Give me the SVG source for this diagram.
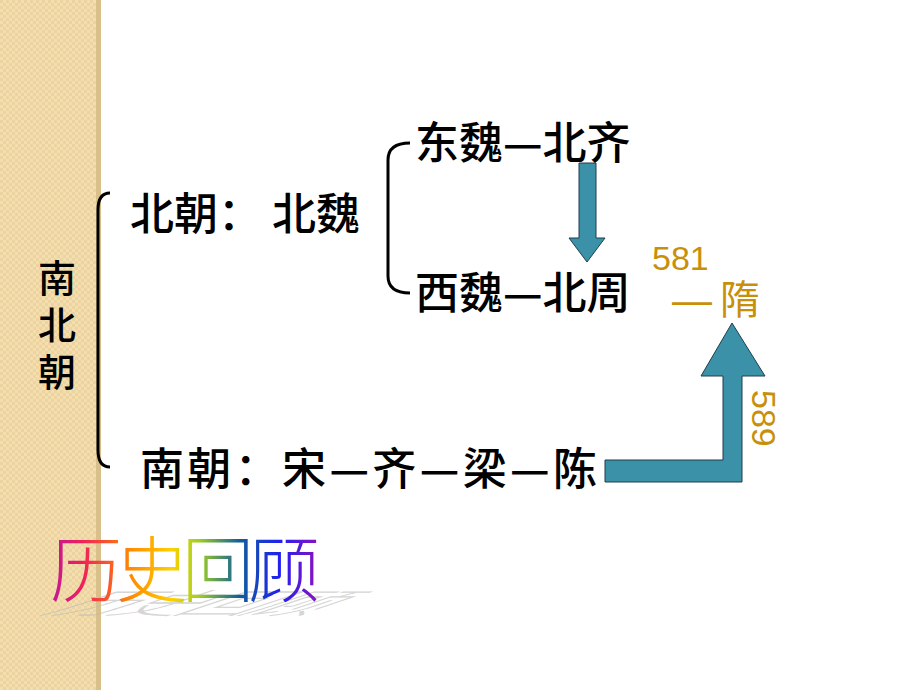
<svg xmlns="http://www.w3.org/2000/svg" width="920" height="690" viewBox="0 0 920 690">
<defs>
<pattern id="p" width="6" height="6" patternUnits="userSpaceOnUse"><rect width="6" height="6" fill="#f3deb0"/><rect width="3" height="3" fill="#ecd3a0"/><rect x="3" y="3" width="3" height="3" fill="#ecd3a0"/></pattern>
<linearGradient id="g" x1="0" x2="1"><stop offset="0" stop-color="#c0169a"/><stop offset="0.12" stop-color="#f0205a"/><stop offset="0.3" stop-color="#ff8a00"/><stop offset="0.45" stop-color="#ffd000"/><stop offset="0.55" stop-color="#a0d020"/><stop offset="0.7" stop-color="#10609a"/><stop offset="0.85" stop-color="#2020f0"/><stop offset="1" stop-color="#9010c0"/></linearGradient>
<style>
.t{font-family:"Noto Sans CJK SC",sans-serif;font-size:44px;font-weight:500;fill:#000}
.o{font-family:"Liberation Sans","Noto Sans CJK SC",sans-serif;fill:#c8900a}
.br{fill:none;stroke:#000;stroke-width:3}
.ar{fill:#3a91a8;stroke:#1f3f4a;stroke-width:1}
</style>
</defs>
<rect width="920" height="690" fill="#fff"/>
<rect width="100" height="690" fill="url(#p)"/>
<rect x="96" width="5" height="690" fill="#d9c08a"/>
<g id="title" style="font-size:38px"><text class="t" style="font-size:38px" x="57" y="292" text-anchor="middle">南</text><text class="t" style="font-size:38px" x="57" y="339" text-anchor="middle">北</text><text class="t" style="font-size:38px" x="57" y="386" text-anchor="middle">朝</text></g>
<g id="connectors">
<path class="br" d="M110,193 Q98,193 98,210 L98,450 Q98,467 110,467"/>
<path class="br" d="M410,143 Q388,143 388,160 L388,276 Q388,293 410,293"/>
<path class="ar" d="M579,163 H596 V238 H605 L587,262 L569,238 H579 Z"/>
<path class="ar" d="M605,460 H723 V376 H701 L732,323 L765,376 H742 V482 H605 Z"/>
</g>
<g id="beichao"><text class="t" x="130" y="230">北朝：  北魏</text></g>
<g id="dongwei"><text class="t" x="415" y="159">东魏—北齐</text></g>
<g id="xiwei"><text class="t" x="415" y="309">西魏—北周</text></g>
<g id="nanchao"><text class="t" x="140" y="485" textLength="457">南朝：宋—齐—梁—陈</text></g>
<g id="sui"><text class="o" x="652" y="270" font-size="34">581</text><text class="o" x="672" y="314" font-size="40" textLength="88">—隋</text></g>
<g id="y589"><text class="o" font-size="34" transform="translate(752,390) rotate(90)">589</text></g>
<g id="wordart" font-family="'Noto Sans CJK SC',sans-serif" font-size="72" font-weight="300">
<text x="0" y="0" fill="#bbb" opacity="0.6" transform="matrix(1,0,-1.2,0.4,40,614)" textLength="270">历史回顾</text>
<text x="50" y="596" fill="url(#g)" textLength="270">历史回顾</text>
</g>
</svg>
